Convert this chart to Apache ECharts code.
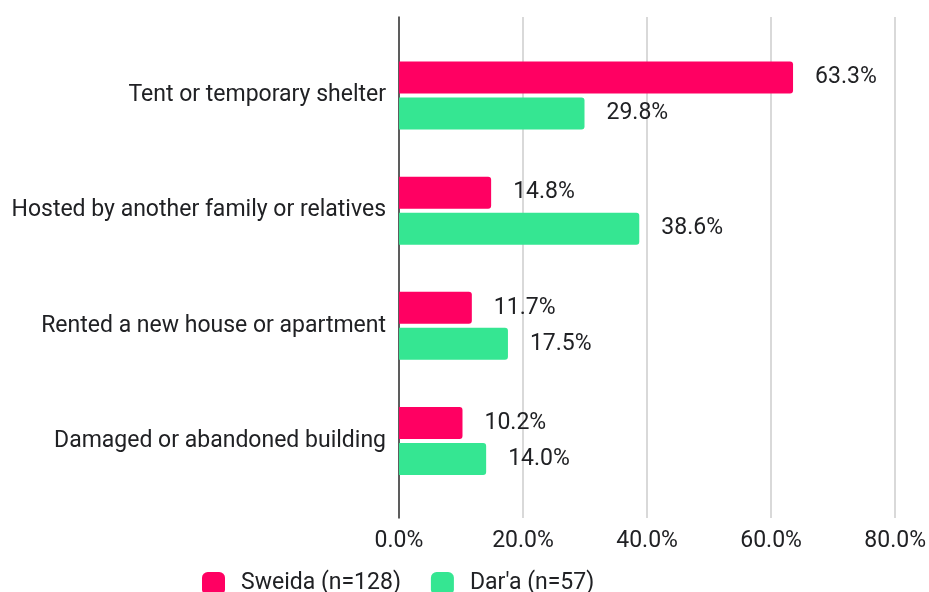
<!DOCTYPE html>
<html>
<head>
<meta charset="utf-8">
<script src="https://cdn.jsdelivr.net/npm/echarts@6/dist/echarts.min.js"></script>
<style>
html,body{margin:0;padding:0;background:#fff;}
#chart{width:929px;height:592px;}
</style>
</head>
<body>
<div id="chart"></div>
<script>
const categories = ["Tent or temporary shelter", "Hosted by another family or relatives", "Rented a new house or apartment", "Damaged or abandoned building"];
const seriesNames = ["Sweida (n=128)", "Dar'a (n=57)"];
const sweida = [63.3, 14.8, 11.7, 10.2];
const daraa = [29.8, 38.6, 17.5, 14.0];
const xTicks = [0, 20, 40, 60, 80];

const FONT = 'Roboto';
const FS = 23;
const TXT = '#202124';
const chart = echarts.init(document.getElementById('chart'), null, {renderer: 'canvas'});
const pct = v => Number(v).toFixed(1) + '%';
const labelCfg = {
  show: true, position: 'right', distance: 22,
  fontFamily: FONT, fontSize: FS, color: TXT,
  formatter: p => pct(p.value)
};
chart.setOption({
  animation: false,
  backgroundColor: '#ffffff',
  textStyle: {fontFamily: FONT},
  grid: [
    {left: 399, right: 32, top: 17, bottom: 74},
    {left: 399, right: 32, top: 38, bottom: 93.5}
  ],
  legend: {
    data: seriesNames,
    top: 572,
    left: 202,
    padding: 0,
    itemWidth: 23, itemHeight: 23, itemGap: 30,
    icon: 'roundRect',
    textStyle: {fontFamily: FONT, fontSize: FS, color: TXT, padding: [0,0,0,11]}
  },
  xAxis: [
    {
      gridIndex: 0, type: 'value', min: xTicks[0], max: xTicks[xTicks.length-1], interval: 20,
      axisLine: {show: false}, axisTick: {show: false},
      splitLine: {show: true, lineStyle: {color: '#cccccc', width: 1.5}},
      axisLabel: {fontFamily: FONT, fontSize: FS, color: TXT, margin: 12, formatter: v => pct(v)}
    },
    {
      gridIndex: 1, type: 'value', min: xTicks[0], max: xTicks[xTicks.length-1], interval: 20,
      show: false
    }
  ],
  yAxis: [
    {
      gridIndex: 0, type: 'value', min: 0, max: 1,
      axisLine: {show: true, onZero: false, lineStyle: {color: '#333333', width: 1.5}},
      axisTick: {show: false}, axisLabel: {show: false}, splitLine: {show: false}
    },
    {
      gridIndex: 1, type: 'category', data: categories, inverse: true,
      axisLine: {show: false}, axisTick: {show: false},
      axisLabel: {fontFamily: FONT, fontSize: FS, color: TXT, margin: 13}
    }
  ],
  series: [
    {
      name: seriesNames[0], type: 'bar', xAxisIndex: 1, yAxisIndex: 1,
      data: sweida, barWidth: 32, barGap: '12.5%',
      itemStyle: {color: '#ff0062', borderRadius: [0, 3, 3, 0]},
      label: labelCfg
    },
    {
      name: seriesNames[1], type: 'bar', xAxisIndex: 1, yAxisIndex: 1,
      data: daraa, barWidth: 32, barGap: '12.5%',
      itemStyle: {color: '#35e692', borderRadius: [0, 3, 3, 0]},
      label: labelCfg
    }
  ]
});
</script>
</body>
</html>
